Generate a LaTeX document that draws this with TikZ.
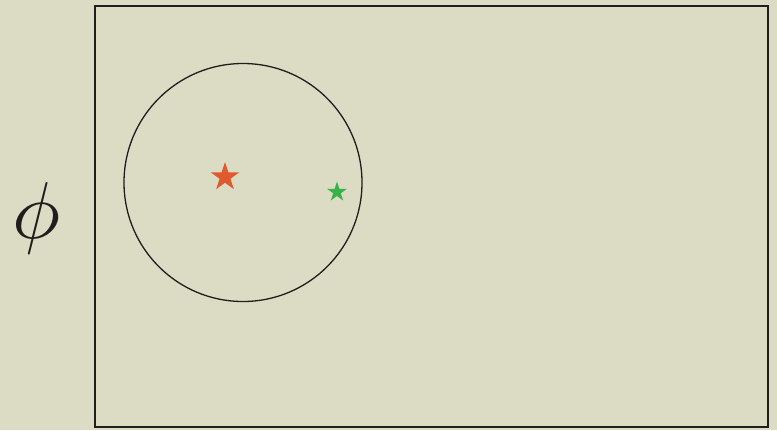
\documentclass[tikz,border=0pt]{standalone}
\usepackage{graphicx}
\usetikzlibrary{shapes.geometric}
\definecolor{paper}{HTML}{DCDCC4}
\definecolor{starred}{HTML}{DF5A2C}
\definecolor{stargreen}{HTML}{3AB14B}
\definecolor{ink}{HTML}{1E1E1E}
\tikzset{
  starshape/.style={star, star points=5, star point ratio=2.618, inner sep=0pt, draw=none, shape border rotate=0},
  outline/.style={draw=ink, line width=1.3bp}
}
\begin{document}
\begin{tikzpicture}[x=1bp,y=-1bp]
\fill[paper] (0,0) rectangle (777,430);
\useasboundingbox (0,0) rectangle (777,430);
\node[outline, rectangle, minimum width=673bp, minimum height=421bp, inner sep=0pt] (frame) at (431.5,216.5) {};
\node[outline, circle, minimum size=238bp, inner sep=0pt] (set) at (243,182.5) {};
\node[starshape, fill=starred, minimum size=30bp] (redstar) at (225,177) {};
\node[starshape, fill=stargreen, minimum size=21bp] (greenstar) at (337,192) {};
\node[inner sep=0pt, text=ink] (phi) at (37,218) {\scalebox{8.1}{$\phi$}};
\end{tikzpicture}
\end{document}
